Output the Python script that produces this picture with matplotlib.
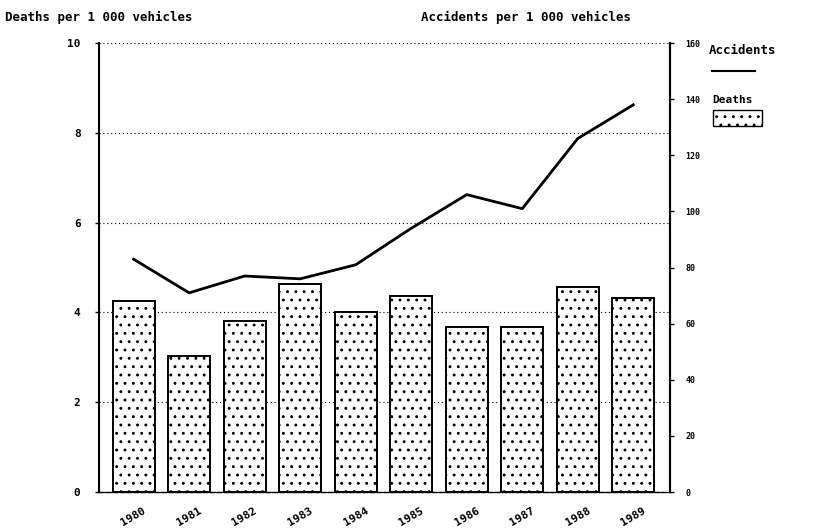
import matplotlib
matplotlib.use('Agg')
import matplotlib.pyplot as plt
from matplotlib.patches import Rectangle
from matplotlib.lines import Line2D

# data
years = ['1980', '1981', '1982', '1983', '1984', '1985', '1986', '1987', '1988', '1989']
deaths = [4.25, 3.03, 3.81, 4.63, 4.0, 4.37, 3.67, 3.67, 4.57, 4.32]
accidents = [83, 71, 77, 76, 81, 94, 106, 101, 126, 138]
left_ticks = [0, 2, 4, 6, 8, 10]
right_ticks = [0, 20, 40, 60, 80, 100, 120, 140, 160]

plt.rcParams['font.family'] = ['DejaVu Sans Mono']
plt.rcParams['hatch.linewidth'] = 0.9

fig = plt.figure(figsize=(8.22, 5.32), dpi=100)
ax = fig.add_axes([0.120, 0.075, 0.695, 0.844])
x = list(range(len(years)))

ax.bar(x, deaths, width=0.76, color='white', edgecolor='black', linewidth=1.4,
       hatch='..', zorder=3)
ax.set_xlim(-0.63, 9.66)
ax.set_ylim(0, 10)
ax.set_yticks(left_ticks)
ax.set_yticklabels([str(t) for t in left_ticks], fontsize=8, fontweight='bold')
ax.set_xticks(x)
ax.set_xticklabels(years, rotation=30, fontsize=8, fontweight='bold')
ax.tick_params(axis='x', length=0, pad=10)
ax.tick_params(axis='y', length=3, width=1, pad=10)
for t in left_ticks[1:]:
    ax.axhline(t, color='black', linestyle=(0, (1, 2.5)), linewidth=0.8, zorder=1)
ax.spines['top'].set_visible(False)
ax.spines['bottom'].set_linestyle((0, (3, 2)))
ax.spines['bottom'].set_linewidth(1)
ax.spines['left'].set_linewidth(1.5)
ax.spines['right'].set_linewidth(1.5)

ax2 = ax.twinx()
ax2.plot(x, accidents, color='black', linewidth=2, zorder=4)
ax2.set_ylim(0, 160)
ax2.set_yticks(right_ticks)
ax2.set_yticklabels([str(t) for t in right_ticks], fontsize=6, fontweight='bold')
ax2.tick_params(axis='y', length=3, width=1, pad=8)
ax2.spines['top'].set_visible(False)
ax2.spines['right'].set_linewidth(1.5)

fig.text(0.006, 0.968, 'Deaths per 1 000 vehicles', fontsize=9, fontweight='bold', va='center')
fig.text(0.512, 0.968, 'Accidents per 1 000 vehicles', fontsize=9, fontweight='bold', va='center')

# legend drawn by hand
fig.text(0.862, 0.905, 'Accidents', fontsize=9, fontweight='bold', va='center')
fig.add_artist(Line2D([0.866, 0.918], [0.866, 0.866], color='black', linewidth=1.5,
                      transform=fig.transFigure))
fig.text(0.866, 0.812, 'Deaths', fontsize=8, fontweight='bold', va='center')
fig.add_artist(Rectangle((0.867, 0.763), 0.060, 0.030, transform=fig.transFigure,
                         facecolor='white', edgecolor='black', hatch='..', linewidth=1))

fig.savefig('out.png', dpi=100, facecolor='white')
